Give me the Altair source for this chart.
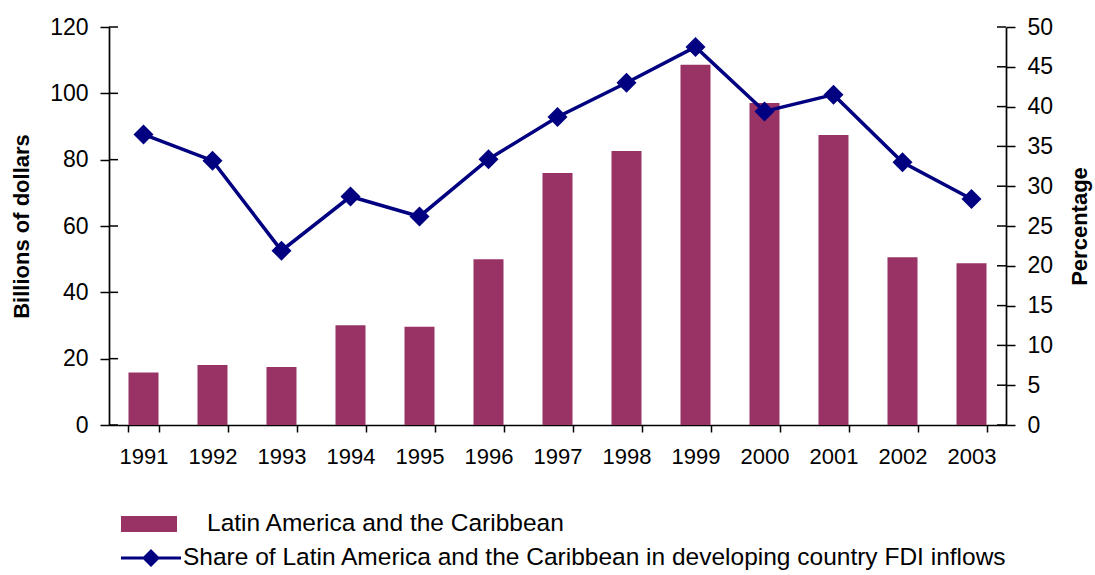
import altair as alt
import pandas as pd

years = [str(y) for y in range(1991, 2004)]
fdi_billions = [15.8, 18.1, 17.5, 30.1, 29.6, 50.0, 76.0, 82.6, 108.6, 97.1, 87.4, 50.6, 48.8]
share_pct = [36.5, 33.2, 21.9, 28.7, 26.2, 33.4, 38.7, 43.0, 47.5, 39.4, 41.5, 33.0, 28.4]
left_ticks = [0, 20, 40, 60, 80, 100, 120]
right_ticks = [0, 5, 10, 15, 20, 25, 30, 35, 40, 45, 50]
bar_label = "Latin America and the Caribbean"
line_label = "Share of Latin America and the Caribbean in developing country FDI inflows"

BAR_COLOR = "#993366"
LINE_COLOR = "#000080"
FONT = "Liberation Sans"
W, H = 897, 398

df = pd.DataFrame({
    "year": years,
    "fdi": fdi_billions,
    "share": share_pct,
    "bar_series": [bar_label] * len(years),
    "line_series": [line_label] * len(years),
})
left_df = pd.DataFrame({"v": left_ticks})
right_df = pd.DataFrame({"v": right_ticks})

xscale = alt.Scale(paddingInner=0.565, paddingOuter=0.2825)
xaxis = alt.Axis(title=None, labelAngle=0, tickBand="extent", labelFontSize=22,
                 labelPadding=14, tickSize=7, labelFont=FONT)
xenc = alt.X("year:O", scale=xscale, axis=xaxis)

left_axis = alt.Axis(values=left_ticks, title="Billions of dollars", titleFontSize=22,
                     titleFontWeight="bold", titleFont=FONT, labelFontSize=23, labelFont=FONT,
                     tickSize=9, labelPadding=12, titlePadding=16, grid=False)
right_axis = alt.Axis(orient="right", values=right_ticks, title="Percentage", titleFontSize=22,
                      titleFontWeight="bold", titleFont=FONT, labelFontSize=23, labelFont=FONT,
                      tickSize=9, labelPadding=12, titlePadding=39, titleAngle=270, grid=False)

left_scale = alt.Scale(domain=[0, 120])
right_scale = alt.Scale(domain=[0, 50])

bars = alt.Chart(df).mark_bar(color=BAR_COLOR).encode(
    x=xenc,
    y=alt.Y("fdi:Q", scale=left_scale, axis=left_axis),
    fill=alt.Fill("bar_series:N", scale=alt.Scale(domain=[bar_label], range=[BAR_COLOR]),
                  legend=alt.Legend(title=None, orient="none", legendX=12, legendY=469,
                                    symbolType="M-1,-0.286H1V0.286H-1Z", symbolSize=3136,
                                    symbolStrokeWidth=0, labelFontSize=24.5, labelFont=FONT,
                                    labelOffset=30, padding=0, labelLimit=1000)),
)
left_inner = alt.Chart(left_df).mark_rule(color="black", strokeWidth=1.5).encode(
    y=alt.Y("v:Q", scale=left_scale, axis=left_axis),
    x=alt.value(0), x2=alt.value(9),
)

yright = alt.Y("share:Q", scale=right_scale, axis=right_axis)

line = alt.Chart(df).mark_line(color=LINE_COLOR, strokeWidth=3.5).encode(x=xenc, y=yright)
points = alt.Chart(df).mark_point(filled=True, shape="diamond", size=400, opacity=1).encode(
    x=xenc,
    y=yright,
    color=alt.Color("line_series:N", scale=alt.Scale(domain=[line_label], range=[LINE_COLOR]),
                    legend=alt.Legend(title=None, orient="none", legendX=12, legendY=501,
                                      symbolType="M-1,-0.05H1V0.05H-1Z M0,-0.3L0.3,0L0,0.3L-0.3,0Z",
                                      symbolSize=3600, symbolStrokeWidth=0,
                                      labelFontSize=24.5, labelFont=FONT, labelOffset=2,
                                      padding=0, labelLimit=1000)),
)
right_inner = alt.Chart(right_df).mark_rule(color="black", strokeWidth=1.5).encode(
    y=alt.Y("v:Q", scale=right_scale, axis=right_axis),
    x=alt.value(W - 9), x2=alt.value(W),
)

chart = alt.layer(
    alt.layer(bars, left_inner),
    alt.layer(line, points, right_inner),
).resolve_scale(y="independent").properties(
    width=W,
    height=H,
    padding={"left": 109, "top": 27, "right": 89, "bottom": 150},
    autosize=alt.AutoSizeParams(type="none"),
).configure_view(stroke=None).configure_axis(
    domainColor="black", tickColor="black", labelColor="black", titleColor="black",
    domainWidth=1.7, tickWidth=1.5,
).configure_legend(labelColor="black")

chart.save("out.html", embed_options={"renderer": "svg", "actions": False})
